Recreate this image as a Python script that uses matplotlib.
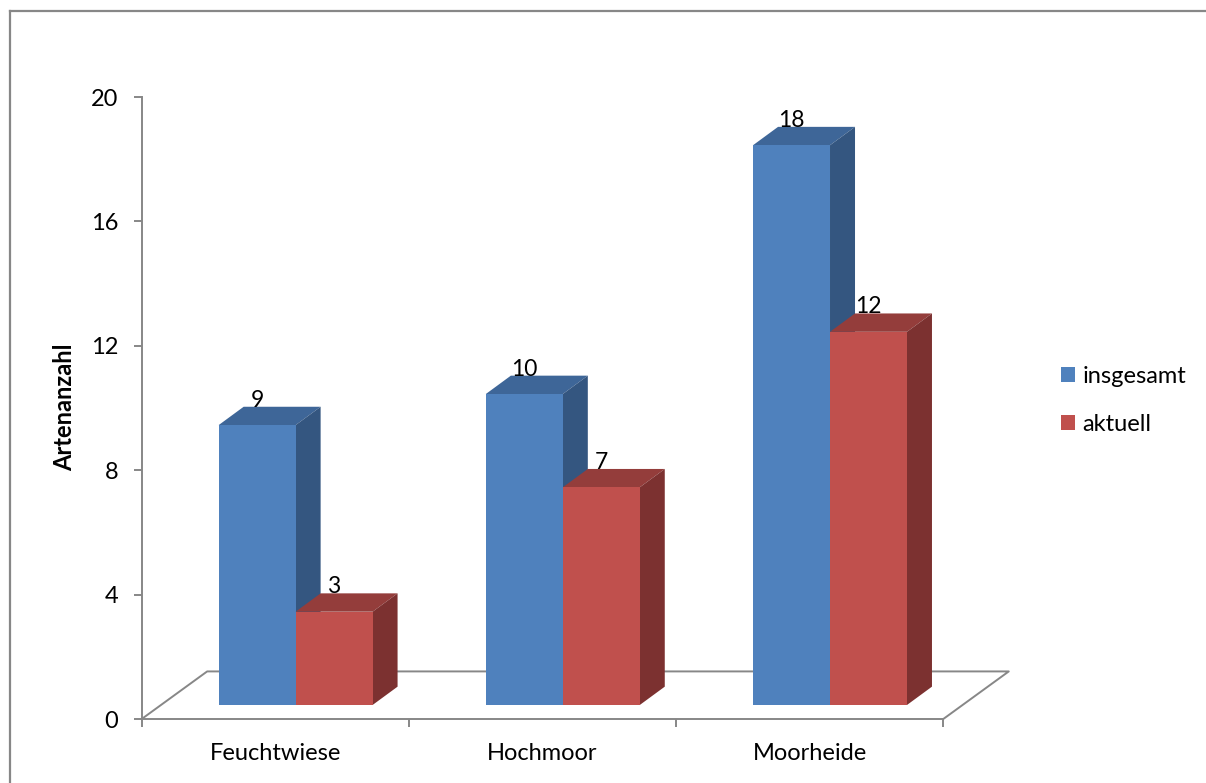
import numpy as np
import matplotlib.pyplot as plt
from matplotlib.patches import Polygon, Patch
from matplotlib.lines import Line2D

plt.rcParams['font.family'] = ['Lato', 'DejaVu Sans']

lebensraum = ['Feuchtwiese', 'Hochmoor', 'Moorheide']
insgesamt = [9, 10, 18]
aktuell = [3, 7, 12]
serien = ['insgesamt', 'aktuell']

# front / top / side colours of the pseudo-3D columns
farben = {
    'insgesamt': ('#4F81BD', '#3E6698', '#345680'),
    'aktuell': ('#C0504D', '#943D3B', '#7C3130'),
}

W, H = 1206, 783
fig = plt.figure(figsize=(W / 100, H / 100), dpi=100)
ax = fig.add_axes([141.7 / W, 1 - 719 / H, (943.3 - 141.7) / W, (719 - 97) / H])
ax.set_xlim(0, 3)
ax.set_ylim(0, 20)

grau = '#878787'

# 3D geometry in data units
breite = 0.288       # column width
versatz = 0.576      # pair centre inside a category
sockel = 0.45        # columns stand a bit above the floor front edge
tx, ty = 0.0936, 0.59   # depth offset of a column
bx, by = 0.245, 1.53    # depth of the floor

# floor outline
ax.plot([0, bx, 3 + bx, 3], [0, by, by, 0], color=grau, lw=1.4,
        clip_on=False, zorder=1)

x = np.arange(len(lebensraum))
for k, (name, werte) in enumerate(zip(serien, [insgesamt, aktuell])):
    vorne, oben, seite = farben[name]
    links = x + versatz - breite + k * breite
    ax.bar(links, werte, width=breite, bottom=sockel, align='edge',
           color=vorne, zorder=3 + k * 2, label=name)
    for xl, v in zip(links, werte):
        xr = xl + breite
        top = sockel + v
        ax.add_patch(Polygon([(xl, top), (xl + tx, top + ty), (xr + tx, top + ty), (xr, top)],
                             closed=True, facecolor=oben, edgecolor='none',
                             zorder=2 + k * 2))
        ax.add_patch(Polygon([(xr, sockel), (xr + tx, sockel + ty), (xr + tx, top + ty), (xr, top)],
                             closed=True, facecolor=seite, edgecolor='none',
                             zorder=2 + k * 2))
        ax.text(xl + breite / 2, top + ty, str(v), ha='center', va='baseline',
                fontsize=16.5, color='black', zorder=10)

for s in ['top', 'right']:
    ax.spines[s].set_visible(False)
for s in ['left', 'bottom']:
    ax.spines[s].set_color(grau)
    ax.spines[s].set_linewidth(1.4)

ax.set_yticks(np.arange(0, 21, 4))
ax.tick_params(axis='y', direction='out', length=6, width=1.4, color=grau,
               labelsize=17, pad=11)
ax.set_xticks([0, 1, 2, 3])
ax.set_xticklabels([])
ax.set_xticks(x + 0.5, minor=True)
ax.set_xticklabels(lebensraum, minor=True)
ax.tick_params(axis='x', which='major', direction='out', length=6, width=1.4, color=grau)
ax.tick_params(axis='x', which='minor', length=0, labelsize=17, pad=17)

ax.set_ylabel('Artenanzahl', fontsize=17, fontweight='bold')
ax.yaxis.label.set_va('center')
ax.yaxis.set_label_coords((65 - 141.7) / 801.6, (719 - 407.5) / 622)

griffe = [Patch(facecolor=farben[n][0], label=n) for n in serien]
fig.legend(handles=griffe, loc='center left', bbox_to_anchor=(1060.7 / W, 1 - 400.5 / H),
           frameon=False, fontsize=17, handlelength=0.6, handleheight=0.6,
           handletextpad=0.33, labelspacing=1.15, borderpad=0, borderaxespad=0)

# outer chart frame
fig.add_artist(Line2D([10 / W, 10 / W], [0, 1 - 10.5 / H], color=grau, lw=1.6,
                      transform=fig.transFigure))
fig.add_artist(Line2D([10 / W, 1], [1 - 10.5 / H, 1 - 10.5 / H], color=grau, lw=1.6,
                      transform=fig.transFigure))

fig.savefig('out.png', dpi=100)
